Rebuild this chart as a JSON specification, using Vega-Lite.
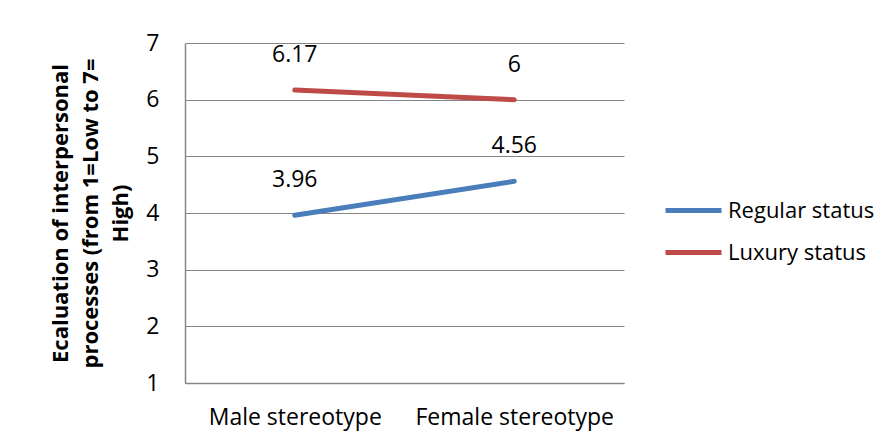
{
  "$schema": "https://vega.github.io/schema/vega-lite/v6.json",
  "width": 439,
  "height": 340,
  "autosize": {"type": "none"},
  "padding": {"left": 185, "top": 43, "right": 268, "bottom": 60},
  "config": {
    "font": "Open Sans",
    "view": {"stroke": null},
    "axis": {"labelColor": "#000000", "titleColor": "#000000"},
    "legend": {"labelColor": "#000000"}
  },
  "data": {
    "values": [
      {"stereotype": "Male stereotype", "status": "Regular status", "value": 3.96},
      {"stereotype": "Female stereotype", "status": "Regular status", "value": 4.56},
      {"stereotype": "Male stereotype", "status": "Luxury status", "value": 6.17},
      {"stereotype": "Female stereotype", "status": "Luxury status", "value": 6}
    ]
  },
  "encoding": {
    "x": {
      "field": "stereotype",
      "type": "nominal",
      "sort": ["Male stereotype", "Female stereotype"],
      "scale": {"type": "point", "padding": 0.5},
      "axis": {
        "title": null,
        "labelAngle": 0,
        "labelFontSize": 23,
        "labelLimit": 0,
        "labelPadding": 23,
        "ticks": false,
        "tickSize": 0,
        "grid": false,
        "domain": true,
        "domainColor": "#868686",
        "domainWidth": 1.5
      }
    },
    "y": {
      "field": "value",
      "type": "quantitative",
      "scale": {"domain": [1, 7], "nice": false, "zero": false},
      "axis": {
        "values": [1, 2, 3, 4, 5, 6, 7],
        "grid": true,
        "gridColor": "#868686",
        "gridWidth": 1.2,
        "domain": true,
        "domainColor": "#868686",
        "domainWidth": 1.5,
        "ticks": false,
        "tickSize": 0,
        "labelFontSize": 23,
        "labelPadding": 26,
        "title": ["Ecaluation of interpersonal", "processes (from 1=Low to 7=", "High)"],
        "titleFontSize": 22,
        "titleFontWeight": "bold",
        "titleAngle": -90,
        "titleAlign": "center",
        "titleBaseline": "alphabetic",
        "titleLineHeight": 30,
        "titleX": -118,
        "titleY": 170
      }
    }
  },
  "layer": [
    {
      "mark": {"type": "line", "strokeWidth": 5, "strokeCap": "round"},
      "encoding": {
        "color": {
          "field": "status",
          "type": "nominal",
          "scale": {"domain": ["Regular status", "Luxury status"], "range": ["#4A7EBB", "#BE4B48"]},
          "legend": {
            "title": null,
            "orient": "none",
            "legendX": 478,
            "legendY": 137,
            "padding": 0,
            "labelFontSize": 22,
            "labelLimit": 0,
            "labelOffset": 4,
            "symbolType": "stroke",
            "symbolSize": 3136,
            "symbolStrokeWidth": 5,
            "rowPadding": -8
          }
        }
      }
    },
    {
      "mark": {"type": "text", "dy": -35, "fontSize": 23, "baseline": "middle", "color": "#000000"},
      "encoding": {
        "text": {"field": "value", "type": "nominal"}
      }
    }
  ]
}
